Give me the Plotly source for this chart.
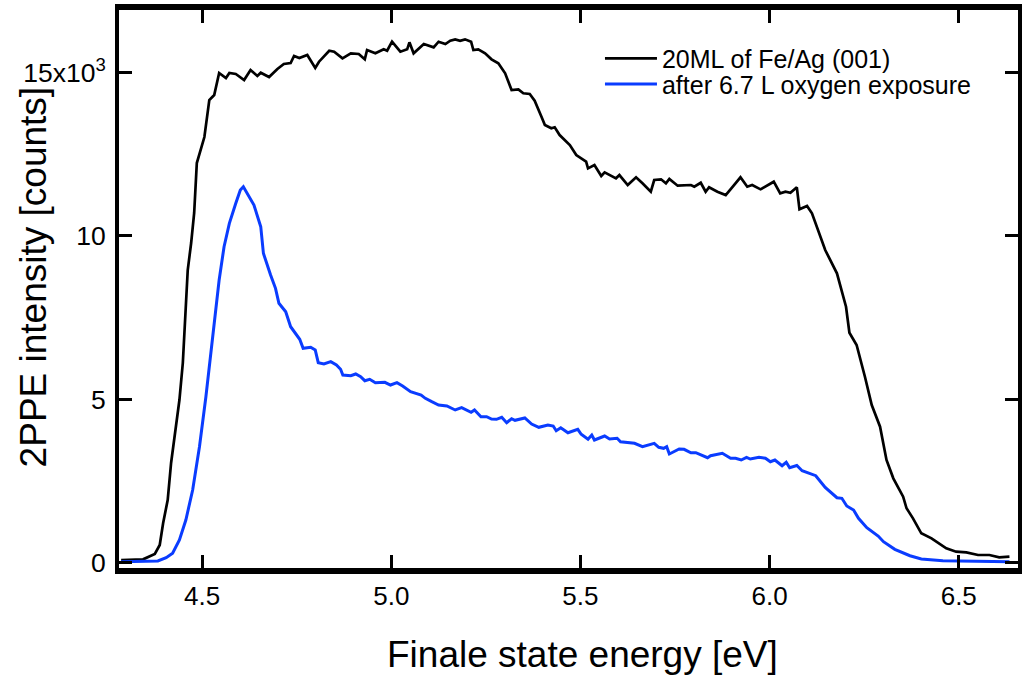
import plotly.graph_objects as go

# ---- data ----
energy_fe = [4.286, 4.344, 4.375, 4.388, 4.397, 4.409, 4.418, 4.431, 4.440, 4.449,
             4.457, 4.462, 4.471, 4.479, 4.486, 4.506, 4.519, 4.532, 4.545, 4.563,
             4.572, 4.589, 4.611, 4.628, 4.646, 4.655, 4.677, 4.699, 4.716, 4.734,
             4.743, 4.757, 4.778, 4.799, 4.809, 4.822, 4.836, 4.849, 4.871, 4.893,
             4.914, 4.930, 4.936, 4.958, 4.980, 4.989, 5.002, 5.024, 5.042, 5.048,
             5.059, 5.086, 5.112, 5.125, 5.143, 5.156, 5.169, 5.182, 5.195, 5.211,
             5.217, 5.230, 5.248, 5.265, 5.283, 5.301, 5.318, 5.336, 5.349, 5.366,
             5.379, 5.397, 5.406, 5.423, 5.432, 5.445, 5.472, 5.489, 5.515, 5.520,
             5.537, 5.555, 5.564, 5.594, 5.603, 5.625, 5.647, 5.664, 5.686, 5.695,
             5.713, 5.726, 5.735, 5.757, 5.792, 5.801, 5.818, 5.831, 5.840, 5.862,
             5.884, 5.906, 5.923, 5.941, 5.954, 5.976, 6.011, 6.028, 6.042, 6.055,
             6.072, 6.079, 6.099, 6.112, 6.134, 6.147, 6.178, 6.202, 6.211, 6.230,
             6.252, 6.270, 6.292, 6.309, 6.327, 6.353, 6.362, 6.379, 6.401, 6.428,
             6.467, 6.493, 6.520, 6.551, 6.581, 6.607, 6.634]
counts_fe = [77, 98, 260, 536, 1209, 1914, 3047, 4271, 4976, 6109,
             7640, 8956, 9783, 10702, 12233, 13029, 14162, 14315, 14988, 14835,
             14988, 14958, 14774, 15080, 14897, 14998, 14866, 15111, 15264, 15295,
             15509, 15448, 15540, 15142, 15335, 15488, 15671, 15641, 15439, 15592,
             15570, 15408, 15693, 15592, 15714, 15671, 15947, 15641, 15714, 15928,
             15592, 15876, 15775, 15947, 15876, 15977, 16020, 15977, 16020, 15947,
             15693, 15714, 15592, 15408, 15286, 14979, 14468, 14489, 14367, 14345,
             14141, 13650, 13396, 13295, 13326, 13090, 12784, 12478, 12273, 12070,
             12171, 11835, 11948, 11764, 11865, 11559, 11795, 11611, 11354, 11712,
             11734, 11611, 11743, 11538, 11559, 11507, 11629, 11354, 11489, 11354,
             11253, 11559, 11795, 11507, 11559, 11427, 11660, 11305, 11354, 11323,
             11489, 10815, 10916, 10692, 9976, 9569, 8855, 7833, 7037, 6660,
             5689, 4823, 4158, 3139, 2578, 2015, 1660, 1353, 894, 741,
             435, 331, 312, 230, 230, 159, 178]

energy_ox = [4.286, 4.383, 4.405, 4.422, 4.440, 4.457, 4.475, 4.493, 4.510, 4.523,
             4.532, 4.545, 4.558, 4.572, 4.589, 4.601, 4.609, 4.637, 4.655, 4.662,
             4.681, 4.694, 4.703, 4.721, 4.734, 4.758, 4.767, 4.787, 4.799, 4.807,
             4.822, 4.840, 4.855, 4.866, 4.872, 4.893, 4.906, 4.919, 4.930, 4.943,
             4.958, 4.983, 4.998, 5.015, 5.030, 5.051, 5.079, 5.090, 5.107, 5.125,
             5.147, 5.169, 5.186, 5.211, 5.220, 5.237, 5.252, 5.265, 5.278, 5.292,
             5.305, 5.318, 5.327, 5.353, 5.371, 5.390, 5.414, 5.428, 5.436, 5.448,
             5.467, 5.493, 5.502, 5.520, 5.530, 5.537, 5.564, 5.577, 5.597, 5.606,
             5.643, 5.664, 5.695, 5.707, 5.720, 5.728, 5.735, 5.761, 5.774, 5.792,
             5.805, 5.836, 5.844, 5.875, 5.897, 5.910, 5.925, 5.939, 5.949, 5.972,
             5.989, 6.002, 6.014, 6.033, 6.044, 6.053, 6.072, 6.086, 6.122, 6.147,
             6.178, 6.191, 6.204, 6.222, 6.235, 6.257, 6.287, 6.301, 6.331, 6.371,
             6.401, 6.458, 6.634]
counts_ox = [24, 46, 147, 282, 689, 1301, 2220, 3546, 5077, 6406,
             7324, 8650, 9670, 10386, 10999, 11406, 11507, 10947, 10282, 9468,
             8803, 8396, 7937, 7680, 7220, 6834, 6559, 6589, 6507, 6118,
             6078, 6149, 6047, 5916, 5741, 5720, 5772, 5689, 5567, 5610,
             5506, 5518, 5435, 5506, 5404, 5230, 5129, 5028, 4924, 4823,
             4792, 4670, 4740, 4599, 4670, 4464, 4464, 4394, 4385, 4446,
             4281, 4403, 4354, 4425, 4241, 4140, 4210, 4180, 4036, 4128,
             3974, 4079, 3926, 3772, 3904, 3751, 3873, 3782, 3803, 3699,
             3650, 3546, 3650, 3527, 3497, 3546, 3322, 3475, 3466, 3362,
             3362, 3209, 3270, 3344, 3191, 3191, 3139, 3221, 3169, 3221,
             3191, 3087, 3139, 2964, 3068, 2903, 2970, 2811, 2658, 2297,
             1984, 1966, 1730, 1608, 1353, 1066, 811, 637, 404, 208,
             107, 55, 20]

series_names = ["20ML of Fe/Ag (001)", "after 6.7 L oxygen exposure"]
x_tickvals = [4.5, 5.0, 5.5, 6.0, 6.5]
x_ticktext = ["4.5", "5.0", "5.5", "6.0", "6.5"]
y_tickvals = [0, 5000, 10000, 15000]
y_ticktext = ["0", "5", "10", "15x10<sup>3</sup>"]

FONT = "Arial, 'Liberation Sans', sans-serif"
BLUE = "#0a3cff"
x_range = [4.2803, 6.6566]
y_range = [-168, 16918]

fig = go.Figure()
fig.add_trace(go.Scatter(x=energy_fe, y=counts_fe, mode="lines", name=series_names[0],
                         line=dict(color="black", width=2.7), legend="legend",
                         showlegend=True))
fig.add_trace(go.Scatter(x=energy_ox, y=counts_ox, mode="lines", name=series_names[1],
                         line=dict(color=BLUE, width=3), legend="legend2",
                         showlegend=True))

axis_common = dict(showgrid=False, zeroline=False, ticks="inside", ticklen=13,
                   tickwidth=3, tickcolor="black", linecolor="black",
                   showline=True, mirror="ticks")

fig.update_layout(
    width=1022, height=677,
    showlegend=True,
    margin=dict(l=119, r=0, t=10, b=109),
    paper_bgcolor="white", plot_bgcolor="white",
    font=dict(family=FONT, color="black"),
    xaxis=dict(range=x_range, tickvals=x_tickvals, ticktext=x_ticktext,
               linewidth=6, tickfont=dict(size=26, family=FONT), ticklabelstandoff=0,
               **axis_common),
    yaxis=dict(range=y_range, tickvals=y_tickvals, ticktext=y_ticktext,
               linewidth=4, tickfont=dict(size=26.5, family=FONT), ticklabelstandoff=4,
               **axis_common),
    legend=dict(x=0.535, y=0.954, xanchor="left", yanchor="top", visible=True,
                bgcolor="rgba(0,0,0,0)", borderwidth=0,
                font=dict(size=25, family=FONT), itemwidth=52),
    legend2=dict(x=0.535, y=0.908, xanchor="left", yanchor="top", visible=True,
                 bgcolor="rgba(0,0,0,0)", borderwidth=0,
                 font=dict(size=25, family=FONT), itemwidth=52),
    annotations=[
        dict(text="Finale state energy [eV]", xref="paper", yref="paper",
             x=(585 - 119) / 903, y=-(654 - 568) / 558, xanchor="center", yanchor="middle",
             showarrow=False, font=dict(size=37, family=FONT)),
        dict(text="2PPE intensity [counts]", xref="paper", yref="paper",
             x=-(119 - 33) / 903, y=(568 - 277) / 558, xanchor="center", yanchor="middle",
             textangle=-90, showarrow=False, font=dict(size=37, family=FONT)),
    ],
)

fig.write_html("out.html")
